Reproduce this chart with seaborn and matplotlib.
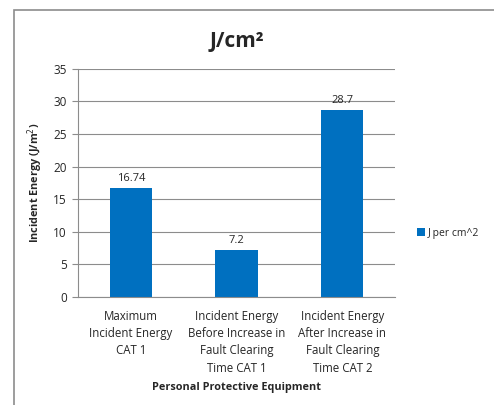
import matplotlib
matplotlib.use("Agg")
import matplotlib.pyplot as plt
import pandas as pd
import seaborn as sns
from matplotlib.patches import Rectangle

# Data ---------------------------------------------------------------
categories = [
    "Maximum\nIncident Energy\nCAT 1",
    "Incident Energy\nBefore Increase in\nFault Clearing\nTime CAT 1",
    "Incident Energy\nAfter Increase in\nFault Clearing\nTime CAT 2",
]
values = [16.74, 7.2, 28.7]
value_labels = ["16.74", "7.2", "28.7"]
series_name = "J per cm^2"
y_ticks = [0, 5, 10, 15, 20, 25, 30, 35]

df = pd.DataFrame({"category": categories, "value": values, "series": series_name})

# Style --------------------------------------------------------------
sns.set_style("white")
plt.rcParams["font.family"] = ["Open Sans", "DejaVu Sans"]
bar_color = "#0070C0"
grid_color = "#8c8c8c"

fig = plt.figure(figsize=(4.94, 4.05), dpi=100)
ax = fig.add_axes([0.158, 0.267, 0.642, 0.563])

sns.barplot(data=df, x="category", y="value", hue="series",
            palette=[bar_color], saturation=1, width=0.4, linewidth=0,
            ax=ax, legend=True)

ax.set_ylim(0, 35)
ax.set_yticks(y_ticks)
ax.set_xlim(-0.5, 2.5)
ax.yaxis.grid(True, color=grid_color, linewidth=0.8)
ax.set_axisbelow(True)

for spine in ["top", "right"]:
    ax.spines[spine].set_visible(False)
for spine in ["left", "bottom"]:
    ax.spines[spine].set_color(grid_color)
    ax.spines[spine].set_linewidth(0.8)

ax.tick_params(axis="y", left=True, length=4, color=grid_color, labelsize=8.5, pad=4)
ax.tick_params(axis="x", bottom=False, pad=6)
ax.set_xticks(range(len(categories)))
ax.set_xticklabels(categories, fontsize=8.3, linespacing=1.42)

for i, (v, lab) in enumerate(zip(values, value_labels)):
    ax.text(i, v + 0.6, lab, ha="center", va="bottom", fontsize=8)

ax.set_xlabel("Personal Protective Equipment", fontsize=7.8, fontweight="bold", labelpad=5)
ax.set_ylabel("Incident Energy (J/m$^2$)", fontsize=7.8, fontweight="bold", labelpad=6)
ax.set_title("J/cm²", fontsize=15, fontweight="bold", pad=16)

leg = ax.legend(loc="center left", bbox_to_anchor=(1.04, 0.28), frameon=False,
                fontsize=7.5, handlelength=0.7, handleheight=0.7, handletextpad=0.3)

# Outer chart border
fig.patches.append(Rectangle((14 / 494, -0.01), 1.0, 1 - 10 / 405 + 0.01,
                             transform=fig.transFigure, fill=False,
                             edgecolor="#8c8c8c", linewidth=1.2))

fig.savefig("out.png", dpi=100)
